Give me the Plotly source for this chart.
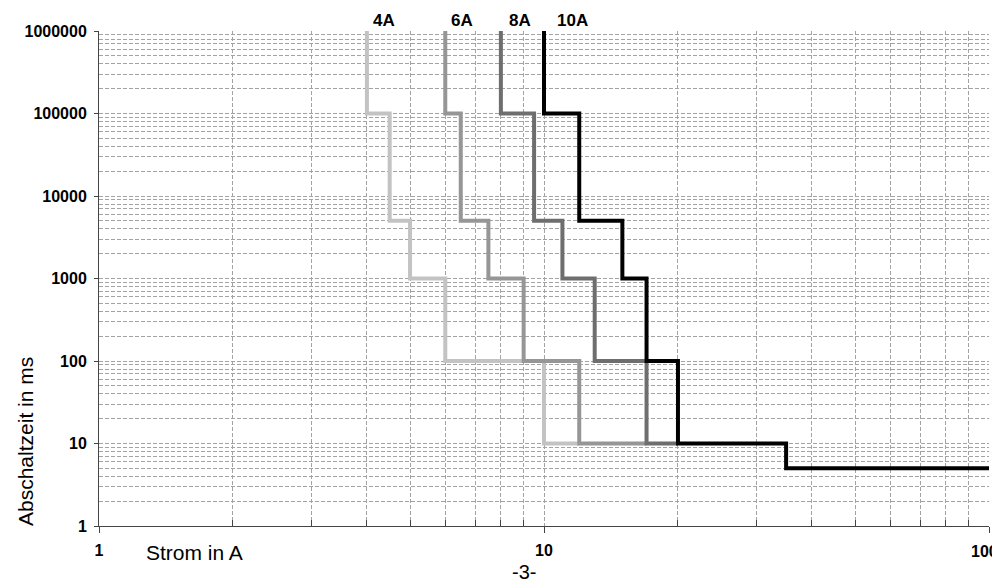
import math
import plotly.graph_objects as go

# ---- data ----
labels = ["4A", "6A", "8A", "10A"]
curve_4A_x = [4, 4, 4.5, 4.5, 5, 5, 6, 6, 10, 10, 12]
curve_4A_y = [1000000, 100000, 100000, 5000, 5000, 1000, 1000, 100, 100, 10, 10]
curve_6A_x = [6, 6, 6.5, 6.5, 7.5, 7.5, 9, 9, 12, 12, 17]
curve_6A_y = [1000000, 100000, 100000, 5000, 5000, 1000, 1000, 100, 100, 10, 10]
curve_8A_x = [8, 8, 9.5, 9.5, 11, 11, 13, 13, 17, 17, 20]
curve_8A_y = [1000000, 100000, 100000, 5000, 5000, 1000, 1000, 100, 100, 10, 10]
curve_10A_x = [10, 10, 12, 12, 15, 15, 17, 17, 20, 20, 35, 35, 100]
curve_10A_y = [1000000, 100000, 100000, 5000, 5000, 1000, 1000, 100, 100, 10, 10, 5, 5]

x_major = [1, 10, 100]
x_major_text = ["1", "10", "100"]
x_minor = [2, 3, 4, 5, 6, 7, 8, 9, 20, 30, 40, 50, 60, 70, 80, 90]
y_major = [1, 10, 100, 1000, 10000, 100000, 1000000]
y_major_text = ["1", "10", "100", "1000", "10000", "100000", "1000000"]
y_minor = [m * d for d in [1, 10, 100, 1000, 10000, 100000] for m in range(2, 10)]

x_title = "Strom in A"
y_title = "Abschaltzeit in ms"
page_text = "-3-"

# ---- style ----
colors = ["#c3c3c3", "#969696", "#6e6e6e", "#000000"]
label_shift = [17, 17, 19, 28]
FONT = "Liberation Sans, Arial, sans-serif"
GRID = "#a3a3a3"
DASH = "4px,2px"
OFF = 8  # page body margin in the browser

# plot area in window pixels: x 99..989, y 31..526
PL, PR, PT, PB = 99, 989, 31, 526
W, H = 1000 - OFF, 583 - OFF


def px_to_paper_x(px):
    return (px - PL) / (PR - PL)


def py_to_paper_y(py):
    return (PB - py) / (PB - PT)


curves = [(curve_4A_x, curve_4A_y), (curve_6A_x, curve_6A_y),
          (curve_8A_x, curve_8A_y), (curve_10A_x, curve_10A_y)]

fig = go.Figure()
for (xs, ys), name, c in zip(curves, labels, colors):
    fig.add_trace(go.Scatter(x=xs, y=ys, mode="lines", name=name,
                             line=dict(color=c, width=4), showlegend=False))

tick_font = dict(family=FONT, size=16, color="#000", weight="bold")

annotations = []
for (xs, ys), name, sh in zip(curves, labels, label_shift):
    annotations.append(dict(x=math.log10(xs[0]), xref="x", y=1, yref="paper", text=name,
                            showarrow=False, xanchor="center", yanchor="bottom",
                            xshift=sh, yshift=-1,
                            font=dict(family=FONT, size=17, color="#000", weight="bold")))
# last x tick label would overflow the page edge: keep it whole, flush right
annotations.append(dict(x=1, y=0, xref="paper", yref="paper", text=x_major_text[-1],
                        showarrow=False, xanchor="right", yanchor="top",
                        xshift=11, yshift=-15, font=tick_font))
annotations.append(dict(x=px_to_paper_x(194), y=py_to_paper_y(552), xref="paper", yref="paper",
                        text=x_title, showarrow=False, xanchor="center", yanchor="middle",
                        font=dict(family=FONT, size=21, color="#000")))
annotations.append(dict(x=px_to_paper_x(25), y=py_to_paper_y(442), xref="paper", yref="paper",
                        text=y_title, showarrow=False, textangle=-90,
                        xanchor="center", yanchor="middle",
                        font=dict(family=FONT, size=21, color="#000")))
annotations.append(dict(x=px_to_paper_x(524), y=py_to_paper_y(572), xref="paper", yref="paper",
                        text=page_text, showarrow=False, xanchor="center", yanchor="middle",
                        font=dict(family=FONT, size=20, color="#000")))

fig.update_layout(
    width=W, height=H,
    margin=dict(l=PL - OFF, r=W - (PR - OFF), t=PT - OFF, b=H - (PB - OFF), autoexpand=False),
    paper_bgcolor="white", plot_bgcolor="white",
    annotations=annotations,
    xaxis=dict(type="log", range=[0, 2], tickmode="array", tickvals=x_major,
               ticktext=x_major_text[:-1] + [""], ticks="outside", ticklen=6, tickcolor="#444",
               ticklabelstandoff=4,
               tickfont=tick_font,
               showgrid=True, gridcolor=GRID, griddash=DASH, gridwidth=1,
               showline=True, linecolor="#444", linewidth=1, zeroline=False,
               minor=dict(tickmode="array", tickvals=x_minor, ticks="inside", ticklen=6,
                          tickcolor="#444", showgrid=True, gridcolor=GRID,
                          griddash=DASH, gridwidth=1)),
    yaxis=dict(type="log", range=[0, 6], tickmode="array", tickvals=y_major,
               ticktext=y_major_text, ticks="outside", ticklen=4, tickcolor="#444",
               ticklabelstandoff=4,
               tickfont=tick_font,
               showgrid=True, gridcolor=GRID, griddash=DASH, gridwidth=1,
               showline=True, linecolor="#444", linewidth=1, zeroline=False,
               minor=dict(tickmode="array", tickvals=y_minor, ticks="",
                          showgrid=True, gridcolor=GRID, griddash=DASH, gridwidth=1)),
)

fig.write_html("out.html")
